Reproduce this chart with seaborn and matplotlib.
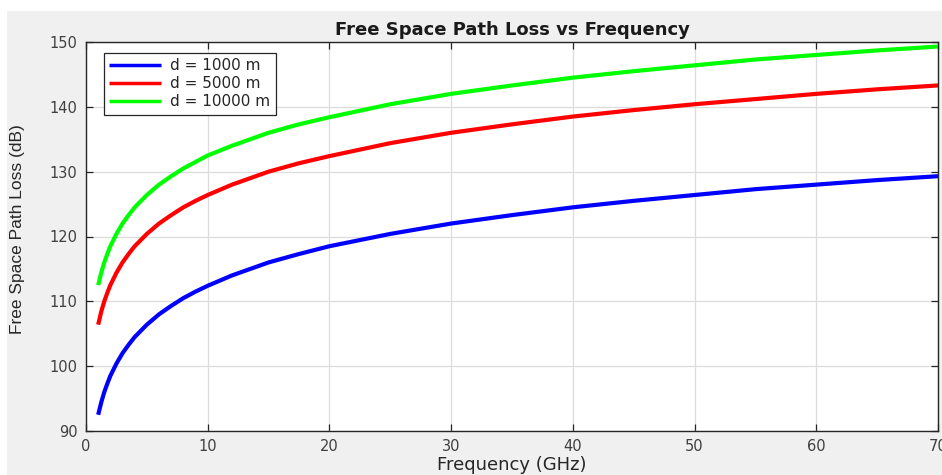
import numpy as np
import pandas as pd
import matplotlib
matplotlib.use("Agg")
import matplotlib.pyplot as plt
import seaborn as sns
from matplotlib.patches import Rectangle

# ---- data ----
freq_ghz = [1, 1.25, 1.5, 1.75, 2, 2.5, 3, 3.5, 4, 5, 6, 7, 8, 9, 10, 12, 15, 17.5, 20, 25, 30, 35,
            40, 45, 50, 55, 60, 65, 70]
loss_1000 = [92.5, 94.4, 96.0, 97.3, 98.5, 100.4, 102.0, 103.3, 104.5, 106.4, 108.0, 109.3, 110.5,
             111.5, 112.4, 114.0, 116.0, 117.3, 118.5, 120.4, 122.0, 123.3, 124.5, 125.5, 126.4,
             127.3, 128.0, 128.7, 129.3]
loss_5000 = [106.4, 108.4, 110.0, 111.3, 112.5, 114.4, 116.0, 117.3, 118.5, 120.4, 122.0, 123.3,
             124.5, 125.5, 126.4, 128.0, 130.0, 131.3, 132.4, 134.4, 136.0, 137.3, 138.5, 139.5,
             140.4, 141.2, 142.0, 142.7, 143.3]
loss_10000 = [112.5, 114.4, 116.0, 117.3, 118.5, 120.4, 122.0, 123.3, 124.5, 126.4, 128.0, 129.3,
              130.5, 131.5, 132.5, 134.0, 136.0, 137.3, 138.4, 140.4, 142.0, 143.3, 144.5, 145.5,
              146.4, 147.3, 148.0, 148.7, 149.3]
series_labels = ["d = 1000 m", "d = 5000 m", "d = 10000 m"]
series_colors = ["#0000ff", "#ff0000", "#00ff00"]
x_ticks = [0, 10, 20, 30, 40, 50, 60, 70]
y_ticks = [90, 100, 110, 120, 130, 140, 150]

sns.set_theme(style="white")
plt.rcParams["font.family"] = ["DejaVu Sans"]

W, H = 942, 475
fig = plt.figure(figsize=(W / 100, H / 100), dpi=100, facecolor="white")
fig.patches.append(Rectangle((7 / W, 0), 1 - 7 / W, 1 - 11 / H, transform=fig.transFigure,
                             facecolor="#f0f0f0", edgecolor="none", zorder=-10))

ax = fig.add_axes([86 / W, (H - 431) / H, 852 / W, (431 - 42) / H])
ax.set_facecolor("white")

for vals, lab, col in zip([loss_1000, loss_5000, loss_10000], series_labels, series_colors):
    df = pd.DataFrame({"f": freq_ghz, "L": vals})
    sns.lineplot(data=df, x="f", y="L", ax=ax, color=col, lw=3.0, label=lab,
                 solid_capstyle="butt", sort=False)

ax.set_xlim(0, 70)
ax.set_ylim(90, 150)
ax.set_xticks(x_ticks)
ax.set_yticks(y_ticks)
ax.grid(True, color="#dcdcdc", lw=0.9)
ax.set_axisbelow(True)
for s in ax.spines.values():
    s.set_color("#262626")
    s.set_linewidth(1.0)
ax.tick_params(direction="in", length=5, width=0.9, colors="#262626", labelcolor="#404040",
               labelsize=10.5, top=True, right=True, bottom=True, left=True)
ax.tick_params(axis="x", pad=6)
ax.tick_params(axis="y", pad=6)

ax.set_title("Free Space Path Loss vs Frequency", fontsize=13, fontweight="bold",
             color="#1a1a1a", pad=5)
ax.set_xlabel("Frequency (GHz)", fontsize=13, color="#262626")
ax.xaxis.set_label_coords(0.5, -0.064)
ax.xaxis.label.set_va("top")
ax.set_ylabel("Free Space Path Loss (dB)", fontsize=12.5, color="#262626",
              family=["Liberation Sans"])
ax.yaxis.set_label_coords(-0.072, 0.52)

leg = ax.legend(loc="upper left", bbox_to_anchor=(0.021, 0.972), fontsize=11, frameon=True,
                fancybox=False, edgecolor="#262626", framealpha=1, handlelength=3.4,
                borderpad=0.35, labelspacing=0.2, handletextpad=0.6, borderaxespad=0)
leg.get_frame().set_linewidth(0.9)
for line in leg.get_lines():
    line.set_linewidth(2.5)

fig.savefig("out.png", dpi=100, facecolor=fig.get_facecolor())
